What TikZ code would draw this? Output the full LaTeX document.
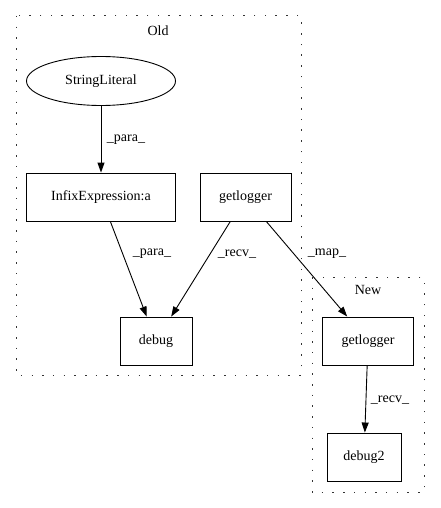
\documentclass[tikz,border=0pt]{standalone}
\usepackage{fontspec}
\setmainfont{Liberation Serif}
\usetikzlibrary{arrows.meta,shapes.geometric}

\begin{document}
\begin{tikzpicture}[x=1pt, y=-1pt,
  font=\fontsize{14}{16}\selectfont,
  box/.style={draw, line width=0.9pt, minimum height=48pt, inner sep=0pt},
  oval/.style={draw, ellipse, line width=0.9pt, minimum width=149pt, minimum height=49pt, inner sep=0pt},
  cluster/.style={line width=1pt, color=black!80, dash pattern=on 1.5pt off 9.2pt},
  edge/.style={line width=0.9pt, -{Triangle[length=10pt,width=7pt]}},
  lbl/.style={inner sep=0pt}]
			%%%%% START %%%%%
			\useasboundingbox (0, 0) rectangle (440, 508);
			
			\draw[cluster] (16, 16) rectangle (301, 375);
			\node (oldname) at (158, 31) {Old};
			
			\draw[cluster] (312, 277) rectangle (424, 492);
			\node (newname) at (368, 290) {New};
			
			\node[oval] (strlit) at (101, 81) {StringLiteral};
			\node[box, minimum width=149pt] (infix) at (101, 197) {InfixExpression:a};
			\node[box, minimum width=91pt] (getlogOld) at (245.5, 197) {getlogger};
			\node[box, minimum width=72pt] (debug) at (156, 341) {debug};
			
			\node[box, minimum width=91pt] (getlogNew) at (368, 341) {getlogger};
			\node[box, minimum width=74pt] (debug2) at (364, 457) {debug2};
			
			\draw[edge] (strlit) -- (infix);
			\draw[edge] (infix) -- (debug);
			\draw[edge] (getlogOld) -- (debug);
			\draw[edge] (getlogOld) -- (getlogNew);
			\draw[edge] (getlogNew) -- (debug2);
			
			\node[lbl] (lpara1) at (126, 140) {\_para\_};
			\node[lbl] (lpara2) at (152, 254) {\_para\_};
			\node[lbl] (lrecv1) at (237, 254) {\_recv\_};
			\node[lbl] (lmap) at (327, 254) {\_map\_};
			\node[lbl] (lrecv2) at (390, 400) {\_recv\_};
			%%%%% END %%%%%
\end{tikzpicture}
\end{document}
